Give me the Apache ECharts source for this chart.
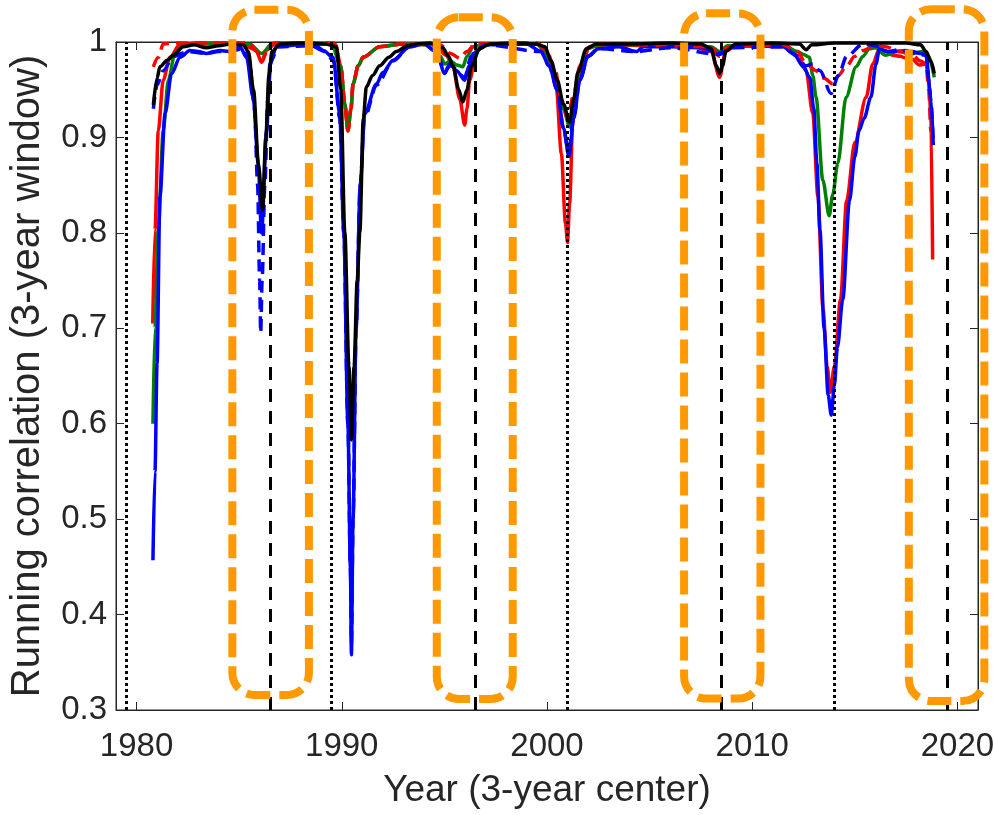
<!DOCTYPE html>
<html>
<head>
<meta charset="utf-8">
<script src="https://cdn.jsdelivr.net/npm/echarts@6/dist/echarts.min.js"></script>
<style>
  html, body { margin: 0; padding: 0; background: #fff; }
  #chart { width: 994px; height: 815px; }
</style>
</head>
<body>
<div id="chart"></div>
<script>
// tick values
const yearTicks = [1980, 1990, 2000, 2010, 2020]

// running correlation curves, [year, r]
const redSolid = [[1980.79,0.705],[1980.9,0.803],[1981.06,0.907],[1981.3,0.96],[1981.63,0.984],[1982.1,0.997],[1983,0.999],[1985,0.999],[1985.8,0.992],[1986.1,0.979],[1986.35,0.992],[1986.8,0.999],[1989,0.999],[1989.7,0.997],[1989.95,0.975],[1990.15,0.935],[1990.3,0.907],[1990.45,0.93],[1990.55,0.956],[1990.8,0.975],[1991.04,0.984],[1991.85,0.995],[1993,0.998],[1994.5,0.998],[1995.1,0.986],[1995.42,0.974],[1995.75,0.94],[1995.99,0.913],[1996.1,0.93],[1996.23,0.96],[1996.56,0.991],[1997.04,0.998],[1999.5,0.998],[1999.97,0.991],[2000.2,0.975],[2000.45,0.953],[2000.7,0.883],[2000.9,0.81],[2001.0,0.79],[2001.1,0.83],[2001.26,0.918],[2001.59,0.967],[2002.08,0.995],[2003,0.997],[2005,0.996],[2007,0.996],[2008.0,0.99],[2008.41,0.963],[2008.7,0.99],[2009.2,0.997],[2011.5,0.997],[2011.97,0.991],[2012.3,0.982],[2012.62,0.97],[2012.95,0.925],[2013.2,0.838],[2013.45,0.72],[2013.65,0.66],[2013.8,0.633],[2014.0,0.66],[2014.3,0.73],[2014.6,0.834],[2015.0,0.895],[2015.55,0.942],[2015.87,0.977],[2016.2,0.993],[2016.5,0.99],[2016.85,0.986],[2017.2,0.985],[2017.5,0.983],[2017.8,0.982],[2018.14,0.976],[2018.47,0.977],[2018.6,0.96],[2018.7,0.925],[2018.79,0.772]]
const greenSolid = [[1980.8,0.60],[1980.9,0.70],[1981.06,0.803],[1981.3,0.907],[1981.55,0.96],[1981.87,0.988],[1982.28,0.997],[1983.5,0.998],[1985.5,0.998],[1986.1,0.988],[1986.6,0.998],[1989.5,0.998],[1989.95,0.975],[1990.15,0.935],[1990.3,0.907],[1990.45,0.93],[1990.55,0.956],[1990.8,0.975],[1991.04,0.984],[1991.85,0.995],[1993,0.998],[1994.4,0.997],[1994.8,0.985],[1995.02,0.977],[1995.3,0.98],[1995.6,0.976],[1995.9,0.974],[1996.1,0.985],[1996.4,0.995],[1997,0.998],[1999.5,0.998],[1999.9,0.99],[2000.2,0.975],[2000.5,0.955],[2000.8,0.93],[2001.1,0.911],[2001.3,0.94],[2001.6,0.97],[2002,0.993],[2002.5,0.997],[2005,0.997],[2008,0.995],[2008.4,0.99],[2008.8,0.996],[2011.5,0.997],[2012.2,0.99],[2012.5,0.987],[2012.78,0.984],[2012.95,0.965],[2013.11,0.942],[2013.44,0.855],[2013.75,0.818],[2013.92,0.84],[2014.17,0.873],[2014.57,0.942],[2015.06,0.974],[2015.4,0.985],[2015.7,0.993],[2016,0.994],[2016.5,0.986],[2017.0,0.99],[2017.5,0.991],[2017.8,0.988],[2018.3,0.99],[2018.6,0.985],[2018.87,0.963]]
const blueSolid = [[1980.8,0.457],[1980.9,0.55],[1981.0,0.663],[1981.14,0.838],[1981.39,0.925],[1981.71,0.967],[1982.12,0.984],[1982.6,0.991],[1983.0,0.99],[1983.41,0.988],[1983.8,0.99],[1984.06,0.991],[1984.5,0.99],[1985.04,0.995],[1985.36,0.984],[1985.68,0.942],[1985.93,0.873],[1986.09,0.80],[1986.34,0.907],[1986.5,0.977],[1986.82,0.995],[1988,0.997],[1988.8,0.995],[1989.1,0.991],[1989.58,0.984],[1989.9,0.925],[1990.1,0.80],[1990.3,0.6],[1990.42,0.45],[1990.47,0.358],[1990.55,0.5],[1990.7,0.7],[1990.9,0.85],[1991.12,0.925],[1991.69,0.956],[1992.0,0.968],[1992.5,0.981],[1993.31,0.995],[1994,0.998],[1994.6,0.99],[1995.02,0.967],[1995.26,0.977],[1995.6,0.97],[1995.99,0.96],[1996.2,0.975],[1996.4,0.988],[1997,0.997],[1999,0.998],[1999.7,0.99],[2000.1,0.975],[2000.5,0.95],[2000.8,0.91],[2001.07,0.88],[2001.3,0.92],[2001.6,0.96],[2002.0,0.985],[2002.5,0.993],[2003.5,0.995],[2004.35,0.99],[2004.7,0.995],[2006,0.995],[2007.5,0.994],[2008.4,0.988],[2008.8,0.994],[2010,0.996],[2011.5,0.995],[2012,0.988],[2012.5,0.974],[2012.8,0.963],[2013.0,0.93],[2013.15,0.873],[2013.3,0.803],[2013.5,0.70],[2013.7,0.63],[2013.85,0.609],[2014.0,0.64],[2014.15,0.68],[2014.41,0.73],[2014.74,0.834],[2015.0,0.88],[2015.2,0.907],[2015.45,0.92],[2015.78,0.942],[2016.03,0.977],[2016.2,0.993],[2016.6,0.99],[2017.2,0.99],[2017.8,0.99],[2018.2,0.988],[2018.47,0.986],[2018.7,0.942],[2018.82,0.892]]
const redDashed = [[1980.82,0.974],[1981.06,0.984],[1981.3,0.998],[1982,0.999],[1985.5,0.999],[1985.85,0.99],[1986.1,0.979],[1986.35,0.99],[1986.7,0.999],[1989.6,0.999],[1989.95,0.975],[1990.15,0.935],[1990.3,0.907],[1990.45,0.93],[1990.55,0.956],[1990.8,0.975],[1991.04,0.984],[1991.85,0.995],[1993,0.998],[1994.8,0.997],[1995.3,0.988],[1995.75,0.983],[1996.1,0.99],[1996.5,0.998],[1999.5,0.999],[2000.0,0.99],[2000.4,0.97],[2000.7,0.94],[2001.0,0.92],[2001.3,0.945],[2001.6,0.975],[2002,0.994],[2002.5,0.998],[2008,0.995],[2008.4,0.985],[2008.8,0.995],[2011.5,0.997],[2012.2,0.99],[2012.6,0.978],[2013.1,0.97],[2013.5,0.962],[2013.93,0.956],[2014.2,0.965],[2014.57,0.974],[2015.0,0.985],[2015.38,0.991],[2016.03,0.997],[2016.5,0.995],[2017.2,0.99],[2017.82,0.986],[2018.2,0.98],[2018.47,0.977],[2018.6,0.95],[2018.7,0.907],[2018.78,0.905]]
const blueDashed = [[1980.82,0.93],[1981.0,0.955],[1981.3,0.97],[1981.8,0.985],[1982.5,0.99],[1983.4,0.988],[1984.0,0.99],[1984.5,0.99],[1985.2,0.993],[1985.5,0.98],[1985.75,0.93],[1985.9,0.85],[1986.0,0.75],[1986.05,0.695],[1986.12,0.75],[1986.25,0.85],[1986.4,0.94],[1986.55,0.98],[1986.9,0.995],[1988.5,0.996],[1989.2,0.99],[1989.6,0.98],[1989.9,0.92],[1990.1,0.80],[1990.3,0.6],[1990.42,0.45],[1990.47,0.37],[1990.55,0.5],[1990.7,0.7],[1990.9,0.85],[1991.1,0.92],[1991.7,0.955],[1992.5,0.98],[1993.3,0.995],[1994,0.998],[1994.6,0.99],[1995.0,0.97],[1995.3,0.975],[1995.99,0.963],[1996.3,0.985],[1997,0.997],[1999.7,0.99],[2000.1,0.975],[2000.5,0.95],[2000.8,0.91],[2001.05,0.885],[2001.3,0.92],[2001.6,0.96],[2002,0.985],[2002.5,0.993],[2004.35,0.99],[2006,0.994],[2008.4,0.987],[2009,0.994],[2011.5,0.995],[2012.2,0.985],[2012.6,0.975],[2012.95,0.977],[2013.3,0.97],[2013.84,0.946],[2014.2,0.965],[2014.6,0.985],[2015.4,0.998],[2016,0.996],[2016.6,0.99],[2017.2,0.992],[2017.8,0.988],[2018.47,0.986],[2018.6,0.96],[2018.7,0.94],[2018.82,0.892]]
const blackSolid = [[1980.82,0.934],[1981.0,0.962],[1981.14,0.974],[1981.5,0.981],[1981.79,0.986],[1982.28,0.995],[1982.8,0.997],[1983.4,0.994],[1984.0,0.996],[1984.6,0.998],[1985.2,0.997],[1985.45,0.99],[1985.7,0.95],[1985.95,0.87],[1986.14,0.824],[1986.3,0.9],[1986.45,0.965],[1986.6,0.99],[1986.98,0.998],[1988,0.999],[1989.2,0.998],[1989.74,0.995],[1989.95,0.95],[1990.15,0.80],[1990.35,0.66],[1990.47,0.583],[1990.6,0.66],[1990.75,0.75],[1990.88,0.80],[1991.05,0.92],[1991.2,0.953],[1991.5,0.965],[1991.85,0.975],[1992.3,0.984],[1992.66,0.99],[1993.2,0.996],[1993.64,0.998],[1994.3,0.999],[1994.92,0.994],[1995.2,0.985],[1995.42,0.975],[1995.7,0.95],[1995.9,0.937],[1996.1,0.95],[1996.31,0.974],[1996.72,0.993],[1997.2,0.998],[1998.5,0.999],[1999.5,0.998],[1999.9,0.995],[2000.2,0.98],[2000.5,0.96],[2000.8,0.935],[2001.1,0.916],[2001.3,0.94],[2001.5,0.968],[2001.92,0.993],[2002.4,0.998],[2004,0.998],[2006,0.999],[2007.5,0.998],[2008.0,0.993],[2008.25,0.975],[2008.41,0.967],[2008.55,0.975],[2008.73,0.991],[2009.2,0.998],[2011,0.999],[2012.3,0.998],[2012.63,0.992],[2012.9,0.997],[2014,0.999],[2016,0.999],[2017.5,0.999],[2018.2,0.997],[2018.47,0.99],[2018.7,0.98],[2018.87,0.967]]

// reference years
const dottedYears = [1979.5, 1989.5, 2001, 2014]
const dashedYears = [1986.5, 1996.5, 2008.5, 2019.5]

// highlighted windows: [yearFrom, yearTo, rBottom, rTop]
const highlightWindows = [
  [1984.67, 1988.40, 0.3157, 1.0337],
  [1994.63, 1998.33, 0.3115, 1.0259],
  [2006.68, 2010.40, 0.3120, 1.0300],
  [2017.63, 2021.31, 0.3094, 1.0343]
]

const axisColor = '#262626'
const fontFamily = "'Liberation Sans', Arial, Helvetica, sans-serif"

const myChart = echarts.init(document.getElementById('chart'))

function curve(data, color, dashed) {
  return {
    type: 'line',
    data: data,
    showSymbol: false,
    smooth: 0.3,
    smoothMonotone: 'x',
    silent: true,
    z: 3,
    lineStyle: {
      color: color,
      width: 3.5,
      type: dashed ? [12, 7] : 'solid'
    }
  }
}

// dotted and dashed reference lines
const vlines = dottedYears.map((y) => {
  return { xAxis: y, lineStyle: { color: '#000', width: 3, type: [3, 3] } }
}).concat(dashedYears.map((y) => {
  return { xAxis: y, lineStyle: { color: '#000', width: 3, type: [13, 9] } }
}))

const option = {
  animation: false,
  backgroundColor: '#fff',
  grid: {
    left: 116,
    right: 16,
    top: 42,
    bottom: 105,
    outerBoundsMode: 'none',
    show: true,
    borderColor: axisColor,
    borderWidth: 1
  },
  xAxis: [
    {
      type: 'value',
      min: 1979,
      max: 2021,
      position: 'bottom',
      name: 'Year (3-year center)',
      nameLocation: 'middle',
      nameGap: 62,
      nameTextStyle: { fontSize: 37, color: axisColor, fontFamily: fontFamily },
      axisLine: { show: true, onZero: false, lineStyle: { color: axisColor } },
      axisTick: { show: true, inside: true, length: 8, customValues: yearTicks, lineStyle: { color: axisColor } },
      axisLabel: {
        customValues: yearTicks,
        fontSize: 33,
        color: axisColor,
        margin: 20,
        fontFamily: fontFamily,
        formatter: (v) => String(v)
      },
      splitLine: { show: false }
    },
    {
      type: 'value',
      min: 1979,
      max: 2021,
      position: 'top',
      axisLine: { show: true, onZero: false, lineStyle: { color: axisColor } },
      axisTick: { show: true, inside: true, length: 8, customValues: yearTicks, lineStyle: { color: axisColor } },
      axisLabel: { show: false },
      splitLine: { show: false }
    }
  ],
  yAxis: [
    {
      type: 'value',
      min: 0.3,
      max: 1,
      interval: 0.1,
      position: 'left',
      name: 'Running correlation (3-year window)',
      nameLocation: 'middle',
      nameGap: 68,
      nameTextStyle: { fontSize: 40, color: axisColor, fontFamily: fontFamily },
      axisLine: { show: true, onZero: false, lineStyle: { color: axisColor } },
      axisTick: { show: true, inside: true, length: 8, lineStyle: { color: axisColor } },
      axisLabel: {
        fontSize: 33,
        color: axisColor,
        margin: 9,
        fontFamily: fontFamily,
        formatter: (v) => String(+v.toFixed(1))
      },
      splitLine: { show: false }
    },
    {
      type: 'value',
      min: 0.3,
      max: 1,
      interval: 0.1,
      position: 'right',
      axisLine: { show: true, onZero: false, lineStyle: { color: axisColor } },
      axisTick: { show: true, inside: true, length: 8, lineStyle: { color: axisColor } },
      axisLabel: { show: false },
      splitLine: { show: false }
    }
  ],
  series: [
    // vertical reference lines, under the curves
    {
      type: 'line',
      data: [],
      z: 1,
      markLine: {
        silent: true,
        symbol: 'none',
        label: { show: false },
        lineStyle: { color: '#000', width: 3 },
        data: vlines
      }
    },
    curve(redSolid, '#FF0000', false),
    curve(greenSolid, '#008000', false),
    curve(blueSolid, '#0000FF', false),
    curve(redDashed, '#FF0000', true),
    curve(blueDashed, '#0000FF', true),
    curve(blackSolid, '#000000', false),
    // orange highlight boxes
    {
      type: 'custom',
      data: highlightWindows,
      encode: { x: [0, 1], y: [2, 3] },
      clip: false,
      silent: true,
      z: 10,
      renderItem(params, api) {
        const p0 = api.coord([api.value(0), api.value(3)])
        const p1 = api.coord([api.value(1), api.value(2)])
        return {
          type: 'rect',
          shape: { x: p0[0], y: p0[1], width: p1[0] - p0[0], height: p1[1] - p0[1], r: 22 },
          style: { fill: 'none', stroke: '#FF9900', lineWidth: 8, lineDash: [24, 9] }
        }
      }
    }
  ]
}

myChart.setOption(option)
</script>
</body>
</html>
